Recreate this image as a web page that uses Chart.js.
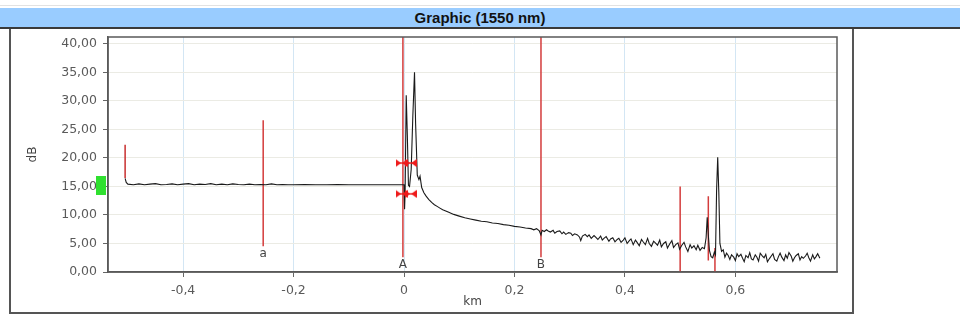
<!DOCTYPE html>
<html>
<head>
<meta charset="utf-8">
<script src="https://cdn.jsdelivr.net/npm/chart.js@4/dist/chart.umd.min.js"></script>
<style>
  html, body { margin:0; padding:0; background:#fff; width:960px; height:320px; overflow:hidden; }
  #topline { position:absolute; left:0; top:5px; width:960px; height:1px; background:#e2e2e2; }
  #titlebar { position:absolute; left:0; top:8px; width:960px; height:19px; background:#99ccff;
    border-bottom:2px solid #3a3a3a; font:bold 15px "Liberation Sans", Arial, sans-serif; color:#111;
    text-align:center; line-height:19px; }
  #box { position:absolute; left:9px; top:29px; width:841px; height:283px; border-left:2px solid #555;
    border-right:2px solid #555; border-bottom:2px solid #555; }
  #c { position:absolute; left:0; top:0; }
</style>
</head>
<body>
<div id="topline"></div>
<div id="titlebar">Graphic (1550 nm)</div>
<div id="box"></div>
<canvas id="c" width="960" height="320"></canvas>
<script>
// ---- axis ranges & ticks ----
const X_MIN = -0.536, X_MAX = 0.784;
const Y_MIN = 0, Y_MAX = 41.2;
const X_TICKS = [-0.4, -0.2, 0, 0.2, 0.4, 0.6];
const Y_TICKS = [0, 5, 10, 15, 20, 25, 30, 35, 40];

// ---- OTDR trace (km, dB) ----
const TRACE_KM = [
 -0.505,-0.503,-0.500,-0.490,-0.480,-0.470,-0.460,-0.450,-0.440,-0.430,-0.420,-0.410,-0.400,-0.390,-0.380,-0.370,-0.360,-0.350,-0.340,-0.330,-0.320,-0.310,-0.300,-0.290,-0.280,-0.270,-0.260,-0.250,-0.240,-0.230,-0.220,-0.210,-0.200,-0.180,-0.160,-0.140,-0.120,-0.100,-0.080,-0.060,-0.040,-0.020,-0.002,
 0.000,0.001,0.002,0.004,0.006,0.008,0.010,0.013,0.016,0.019,0.021,0.024,0.027,0.029,0.032,0.036,0.040,0.045,0.050,0.055,0.060,0.065,0.070,0.080,0.090,0.100,0.110,0.120,0.130,0.140,0.150,0.160,0.170,0.180,0.190,0.200,0.210,0.220,0.230,0.235,0.240,0.245,0.248,
 0.250,0.254,0.258,0.261,0.265,0.270,0.273,0.277,0.282,0.286,
 0.289,0.293,0.298,0.302,0.305,0.309,0.314,0.318,0.320,0.323,
 0.328,0.332,0.335,0.339,0.344,0.347,0.351,0.356,0.359,0.362,
 0.366,0.371,0.374,0.378,0.382,0.386,0.389,0.393,0.397,0.400,
 0.404,0.408,0.411,0.415,0.419,0.422,0.426,0.430,0.433,0.437,
 0.441,0.444,0.448,0.452,0.455,0.459,0.463,0.466,0.470,0.474,
 0.477,0.481,0.485,0.488,0.492,0.496,0.499,0.503,0.507,0.510,
 0.514,0.518,0.521,0.525,0.529,0.532,0.536,0.540,0.544,
 0.547,0.549,0.551,0.553,0.556,0.559,0.562,0.564,0.566,0.568,0.570,0.572,0.575,0.578,
 0.581,0.584,0.587,0.590,0.593,0.597,0.600,0.603,0.606,0.610,
 0.613,0.616,0.619,0.623,0.626,0.629,0.632,0.636,0.639,0.642,
 0.645,0.649,0.652,0.655,0.658,0.662,0.665,0.668,0.671,0.675,
 0.678,0.681,0.684,0.688,0.691,0.694,0.697,0.701,0.704,0.707,
 0.710,0.714,0.717,0.720,0.723,0.727,0.730,0.733,0.736,0.740,
 0.743,0.746,0.749,0.753
];
const TRACE_DB = [
 16.4,15.7,15.4,15.3,15.45,15.3,15.4,15.5,15.3,15.35,15.45,15.3,15.4,15.5,15.3,15.4,15.35,15.5,15.3,15.4,15.3,15.45,15.35,15.3,15.4,15.3,15.35,15.3,15.45,15.3,15.35,15.3,15.3,15.35,15.3,15.3,15.35,15.3,15.3,15.3,15.3,15.3,15.3,
 15.3,11.0,14.0,31.0,24.0,15.2,15.0,18.0,27.5,35.0,26.0,17.0,16.2,16.8,14.8,13.9,13.3,12.7,12.2,11.8,11.5,11.2,10.9,10.5,10.1,9.8,9.5,9.3,9.1,8.9,8.8,8.6,8.5,8.3,8.2,8.0,7.9,7.7,7.6,7.4,7.6,7.2,6.5,
 7.3,7.1,7.4,7.2,7.0,7.3,6.8,7.1,7.2,6.7,
 7.0,6.6,6.9,6.8,6.4,6.7,6.5,6.1,5.5,6.3,
 6.6,6.2,6.5,5.9,6.4,6.1,5.7,6.3,5.6,5.9,
 6.2,5.4,5.8,6.0,5.3,5.7,5.9,5.2,5.6,6.0,
 5.0,5.5,5.8,4.8,5.6,5.2,4.6,5.7,5.3,4.8,
 5.9,5.0,4.5,5.4,5.1,4.7,5.6,4.4,5.0,5.3,
 4.2,4.9,5.5,4.3,4.8,5.1,4.0,4.7,5.2,4.4,
 3.6,4.8,4.2,4.6,3.9,4.7,3.8,4.3,4.1,
 6.0,9.6,6.5,3.8,2.7,2.5,3.5,3.0,14.4,20.1,14.0,5.0,3.6,3.9,
 2.6,3.3,2.9,2.2,3.0,2.6,2.0,3.2,2.7,3.1,
 2.4,1.8,2.9,2.5,3.4,2.3,2.1,3.0,2.6,1.9,
 3.3,2.8,2.5,3.1,1.8,2.4,2.8,3.2,2.2,1.9,
 2.7,3.3,2.6,2.0,3.0,2.4,3.4,2.8,1.9,2.5,
 2.9,3.2,2.1,2.7,2.4,2.8,3.3,2.5,1.9,3.0,
 2.3,2.7,3.2,2.4
];

// start-of-fibre red spike
const START_KM = [-0.505, -0.505];
const START_DB = [22.3, 16.5];

// labelled cursors
const CURSOR_NAMES = ['a', 'A', 'B'];
const CURSOR_KM = [-0.255, -0.002, 0.248];
const CURSOR_TOP = [26.6, 41.2, 41.2];
const CURSOR_BOTTOM = [4.5, 2.6, 2.6];

// event markers near fibre end
const EVENT_KM = [0.500, 0.551, 0.563];
const EVENT_TOP = [15.0, 13.3, 4.2];
const EVENT_BOTTOM = [0, 2.0, 0];

// red splice arrows
const ARROW_KM = [-0.0045, 0.012, -0.0045, 0.012];
const ARROW_DB = [19.1, 19.1, 13.7, 13.7];

// green level marker on the y axis
const LEVEL_KM = [-0.548];
const LEVEL_DB = [15.2];

// ---- helpers ----
const pts = (xs, ys) => xs.map((x, i) => ({ x: x, y: ys[i] }));
const RED = '#d43c3c';

function arrowCanvas() {
  const c = document.createElement('canvas');
  c.width = 12; c.height = 10;
  const g = c.getContext('2d');
  g.fillStyle = '#ee1c1c';
  g.beginPath(); g.moveTo(0, 1); g.lineTo(5.5, 5); g.lineTo(0, 9); g.closePath(); g.fill();
  g.beginPath(); g.moveTo(12, 1); g.lineTo(6.5, 5); g.lineTo(12, 9); g.closePath(); g.fill();
  g.fillRect(0, 4.3, 12, 1.4);
  return c;
}
function levelCanvas() {
  const c = document.createElement('canvas');
  c.width = 10; c.height = 19;
  const g = c.getContext('2d');
  g.fillStyle = '#2fe02f';
  g.fillRect(0, 0, 10, 19);
  return c;
}

const datasets = [];
datasets.push({ data: pts(TRACE_KM, TRACE_DB), showLine: true, borderColor: '#1a1a1a', borderWidth: 1.1, pointRadius: 0, order: 2 });
datasets.push({ data: pts(START_KM, START_DB), showLine: true, borderColor: '#c83030', borderWidth: 1.5, pointRadius: 0, order: 1 });
CURSOR_KM.forEach((k, i) => datasets.push({
  data: pts([k, k], [CURSOR_TOP[i], CURSOR_BOTTOM[i]]), showLine: true, borderColor: RED, borderWidth: 1.5, pointRadius: 0, order: 3
}));
EVENT_KM.forEach((k, i) => datasets.push({
  data: pts([k, k], [EVENT_TOP[i], EVENT_BOTTOM[i]]), showLine: true, borderColor: RED, borderWidth: 1.5, pointRadius: 0, order: 3
}));
datasets.push({ data: pts(ARROW_KM, ARROW_DB), showLine: false, pointStyle: arrowCanvas(), pointRadius: 6, order: 0 });
datasets.push({ data: pts(LEVEL_KM, LEVEL_DB), showLine: false, pointStyle: levelCanvas(), pointRadius: 9, clip: false, order: 0 });

const tickFont = { family: '"DejaVu Sans", Verdana, sans-serif', size: 12.5 };

const framePlugin = {
  id: 'frame',
  afterDatasetsDraw(chart) {
    const { ctx, chartArea: a, scales } = chart;
    ctx.save();
    ctx.strokeStyle = '#5a5a5a';
    ctx.lineWidth = 1.5;
    ctx.strokeRect(a.left, a.top, a.right - a.left, a.bottom - a.top);
    ctx.fillStyle = '#444';
    ctx.font = '12px "DejaVu Sans", Verdana, sans-serif';
    ctx.textAlign = 'center';
    ctx.textBaseline = 'middle';
    CURSOR_NAMES.forEach((n, i) => {
      const px = scales.x.getPixelForValue(CURSOR_KM[i]);
      const py = scales.y.getPixelForValue(CURSOR_BOTTOM[i]);
      ctx.fillText(n, px, py + 8);
    });
    ctx.restore();
  }
};

new Chart(document.getElementById('c'), {
  type: 'scatter',
  data: { datasets: datasets },
  plugins: [framePlugin],
  options: {
    responsive: false,
    animation: false,
    devicePixelRatio: 1,
    layout: { padding: { left: 20, top: 37, right: 123, bottom: 0 } },
    plugins: { legend: { display: false }, tooltip: { enabled: false } },
    scales: {
      x: {
        type: 'linear', min: X_MIN, max: X_MAX,
        afterFit(s) { s.height = 48; },
        afterBuildTicks(s) { s.ticks = X_TICKS.map(v => ({ value: v })); },
        ticks: { padding: 6, color: '#5a5a5a', font: tickFont, maxRotation: 0,
          callback: v => (Math.abs(v) < 1e-9 ? '0' : v.toFixed(1).replace('.', ',')) },
        grid: { color: '#d3e6f4', lineWidth: 1, tickColor: '#666', tickLength: 5 },
        border: { display: true, color: '#5a5a5a', width: 1.5 },
        title: { display: true, text: 'km', color: '#444', font: { family: '"DejaVu Sans", Verdana, sans-serif', size: 12 }, padding: { top: 0, bottom: 11 } }
      },
      y: {
        type: 'linear', min: Y_MIN, max: Y_MAX,
        afterFit(s) { s.width = 88; },
        afterBuildTicks(s) { s.ticks = Y_TICKS.map(v => ({ value: v })); },
        ticks: { padding: 6, color: '#5a5a5a', font: tickFont,
          callback: v => v.toFixed(2).replace('.', ',') },
        grid: { color: '#ebebe4', lineWidth: 1, tickColor: '#666', tickLength: 5 },
        border: { display: true, color: '#5a5a5a', width: 1.5 },
        title: { display: true, text: 'dB', color: '#444', font: { family: '"DejaVu Sans", Verdana, sans-serif', size: 12 }, padding: { top: 6, bottom: 0 } }
      }
    }
  }
});
</script>
</body>
</html>
